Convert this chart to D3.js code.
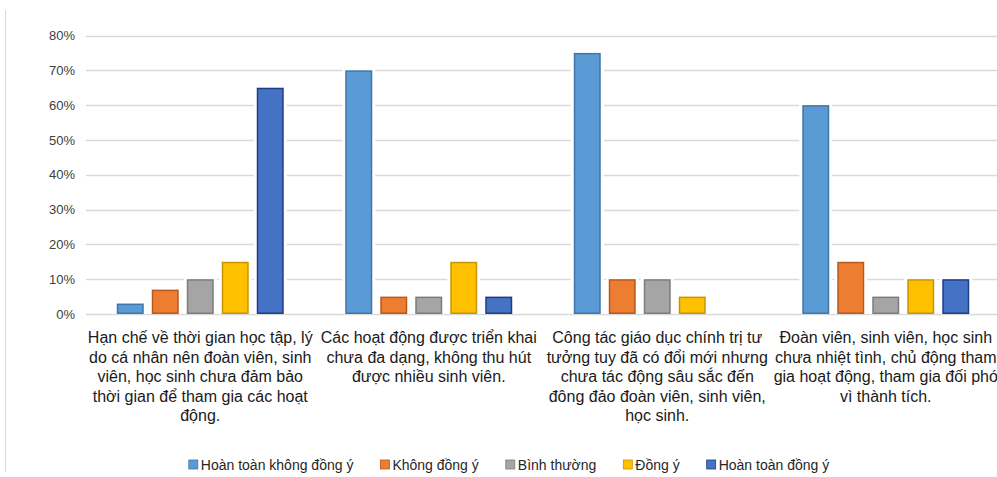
<!DOCTYPE html>
<meta charset="utf-8">
<head>
<style>
  body { margin: 0; background: #fff; font-family: "Liberation Sans", Arial, sans-serif; }
  svg { display: block; }
</style>
<script src="https://cdn.jsdelivr.net/npm/d3@7"></script>
</head>
<body>
<svg id="chart"></svg>
<script>
// data
let categories = ["c1", "c2", "c3", "c4"]
let categoryLines = [
  ["Hạn chế về thời gian học tập, lý", "do cá nhân nên đoàn viên, sinh", "viên, học sinh chưa đảm bảo", "thời gian để tham gia các hoạt", "động."],
  ["Các hoạt động được triển khai", "chưa đa dạng, không thu hút", "được nhiều sinh viên."],
  ["Công tác giáo dục chính trị tư", "tưởng tuy đã có đổi mới nhưng", "chưa tác động sâu sắc đến", "đông đảo đoàn viên, sinh viên,", "học sinh."],
  ["Đoàn viên, sinh viên, học sinh", "chưa nhiệt tình, chủ động tham", "gia hoạt động, tham gia đối phó", "vì thành tích."]
]
let seriesNames = ["Hoàn toàn không đồng ý", "Không đồng ý", "Bình thường", "Đồng ý", "Hoàn toàn đồng ý"]
let hoanToanKhongDongY = [0.03, 0.70, 0.75, 0.60]
let khongDongY = [0.07, 0.05, 0.10, 0.15]
let binhThuong = [0.10, 0.05, 0.10, 0.05]
let dongY = [0.15, 0.15, 0.05, 0.10]
let hoanToanDongY = [0.65, 0.05, null, 0.10]
let yTicks = [0, 0.1, 0.2, 0.3, 0.4, 0.5, 0.6, 0.7, 0.8]

let fills = ["#5b9bd5", "#ed7d31", "#a5a5a5", "#ffc000", "#4472c4"]
let strokes = ["#3f76aa", "#b85a1c", "#7c7c7c", "#c99400", "#1f3c86"]

let seriesValues = [hoanToanKhongDongY, khongDongY, binhThuong, dongY, hoanToanDongY]

let width = 997, height = 477
let svg = d3.select("#chart").attr("width", width).attr("height", height)

// thin border on the left edge
svg.append("line")
  .attr("x1", 5.5).attr("x2", 5.5).attr("y1", 10).attr("y2", 472)
  .attr("stroke", "#d9d9d9").attr("stroke-width", 1)

let x0 = d3.scaleBand().domain(categories).range([86, 1000]).padding(0)
let x1 = d3.scaleBand().domain(seriesNames).range([0, x0.bandwidth()])
  .paddingInner(0.229).paddingOuter(0.879)
let y = d3.scaleLinear().domain([0, 0.8]).range([314, 35.5])

// gridlines
svg.append("g").selectAll("line")
  .data(yTicks).enter().append("line")
  .attr("x1", 86).attr("x2", width)
  .attr("y1", d => Math.round(y(d)) + 0.5).attr("y2", d => Math.round(y(d)) + 0.5)
  .attr("stroke", "#d9d9d9").attr("stroke-width", 1.3)

// y axis labels
let axisY = d3.axisLeft(y).tickValues(yTicks).tickFormat(d3.format(".0%")).tickSize(0).tickPadding(0)
let gy = svg.append("g").attr("transform", "translate(75,0)").call(axisY)
gy.select(".domain").remove()
gy.selectAll("text")
  .attr("font-family", "'Liberation Sans', Arial, sans-serif")
  .attr("font-size", "13px").attr("fill", "#404040")

// bars
let bars = []
categories.forEach((c, i) => {
  seriesNames.forEach((s, j) => {
    let v = seriesValues[j][i]
    if (v == null) return
    bars.push({ c, s, j, v })
  })
})

let body = svg.append("g")
body.selectAll(".halo").data(bars).enter().append("rect")
  .attr("x", d => x0(d.c) + x1(d.s) - 3)
  .attr("y", d => y(d.v) - 3)
  .attr("width", x1.bandwidth() + 6)
  .attr("height", d => y(0) - y(d.v) + 3)
  .attr("fill", "#fff")

body.selectAll(".bar").data(bars).enter().append("rect")
  .attr("x", d => x0(d.c) + x1(d.s) + 0.75)
  .attr("y", d => y(d.v) + 0.75)
  .attr("width", x1.bandwidth() - 1.5)
  .attr("height", d => Math.max(0, y(0) - y(d.v) - 1.5))
  .attr("fill", d => fills[d.j])
  .attr("stroke", d => strokes[d.j])
  .attr("stroke-width", 1.5)

// category labels
let labels = svg.append("g")
categories.forEach((c, i) => {
  let t = labels.append("text")
    .attr("x", x0(c) + x0.bandwidth() / 2)
    .attr("text-anchor", "middle")
    .attr("font-size", "16px")
    .attr("fill", "#1a1a1a")
  categoryLines[i].forEach((line, k) => {
    t.append("tspan")
      .attr("x", x0(c) + x0.bandwidth() / 2)
      .attr("y", 343 + k * 19.5)
      .text(line)
  })
})

// legend
let legend = svg.append("g")
let items = legend.selectAll("g").data(seriesNames).enter().append("g")
items.append("rect")
  .attr("width", 9).attr("height", 9).attr("y", -5)
  .attr("fill", (d, i) => fills[i])
  .attr("stroke", (d, i) => strokes[i]).attr("stroke-width", 0.8)
items.append("text")
  .attr("x", 12).attr("y", 5)
  .attr("font-size", "14px").attr("fill", "#262626")
  .text(d => d)

let gap = 27
let pos = 0
let offsets = []
items.each(function() {
  offsets.push(pos)
  pos += this.getBBox().width + gap
})
let total = pos - gap
let startX = 509 - total / 2
items.attr("transform", (d, i) => `translate(${startX + offsets[i]},465)`)
</script>
</body>
